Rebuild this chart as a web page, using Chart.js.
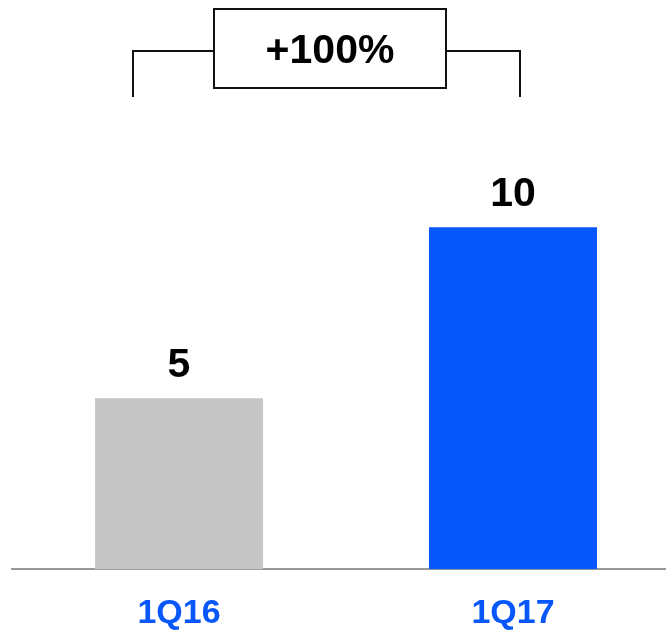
<!DOCTYPE html>
<html>
<head>
<meta charset="utf-8">
<script src="https://cdn.jsdelivr.net/npm/chart.js@4"></script>
<style>
  html, body { margin: 0; padding: 0; background: #fff; overflow: hidden; }
  #wrap { width: 666px; height: 630px; overflow: hidden; }
  canvas { display: block; }
</style>
</head>
<body>
<div id="wrap"><canvas id="growthChart" width="680" height="658"></canvas></div>
<script>
// quarters and their values
const quarters = ['1Q16', '1Q17'];
const values = [5, 10];
const barColors = ['#c6c6c6', '#0857fb'];

const FONT = 'Liberation Sans, Arial, Helvetica, sans-serif';

// value labels above each bar
const valueLabels = {
  id: 'valueLabels',
  afterDatasetsDraw(chart) {
    const ctx = chart.ctx;
    const meta = chart.getDatasetMeta(0);
    ctx.save();
    ctx.font = 'bold 41px ' + FONT;
    ctx.fillStyle = '#000';
    ctx.textAlign = 'center';
    ctx.textBaseline = 'alphabetic';
    meta.data.forEach((bar, i) => {
      ctx.fillText(String(values[i]), bar.x, bar.y - 21);
    });
    ctx.restore();
  }
};

// growth bracket with the percentage box on top
const growthBracket = {
  id: 'growthBracket',
  afterDraw(chart) {
    const ctx = chart.ctx;
    const change = Math.round((values[1] - values[0]) / values[0] * 100);
    const text = (change >= 0 ? '+' : '') + change + '%';
    const lineY = 51, legBottom = 97;
    const leftX = 133, rightX = 520;
    const box = { x1: 214, x2: 446, y1: 9, y2: 88 };

    ctx.save();
    ctx.strokeStyle = '#111';
    ctx.lineWidth = 2;
    ctx.beginPath();
    ctx.moveTo(leftX, legBottom);
    ctx.lineTo(leftX, lineY);
    ctx.lineTo(box.x1, lineY);
    ctx.moveTo(box.x2, lineY);
    ctx.lineTo(rightX, lineY);
    ctx.lineTo(rightX, legBottom);
    ctx.stroke();

    ctx.fillStyle = '#fff';
    ctx.fillRect(box.x1, box.y1, box.x2 - box.x1, box.y2 - box.y1);
    ctx.strokeRect(box.x1, box.y1, box.x2 - box.x1, box.y2 - box.y1);

    ctx.fillStyle = '#000';
    ctx.font = 'bold 41px ' + FONT;
    ctx.textAlign = 'center';
    ctx.textBaseline = 'alphabetic';
    ctx.fillText(text, (box.x1 + box.x2) / 2, 63);
    ctx.restore();
  }
};

const ctx = document.getElementById('growthChart').getContext('2d');
new Chart(ctx, {
  type: 'bar',
  data: {
    labels: quarters,
    datasets: [{
      data: values,
      backgroundColor: barColors,
      borderWidth: 0,
      categoryPercentage: 1,
      barPercentage: 0.503
    }]
  },
  options: {
    responsive: false,
    animation: false,
    devicePixelRatio: 1,
    layout: { padding: { left: 12, right: 0, top: 0, bottom: 0 } },
    plugins: {
      legend: { display: false },
      tooltip: { enabled: false }
    },
    scales: {
      x: {
        grid: { display: false, drawTicks: false },
        border: { display: true, color: '#999', width: 2 },
        ticks: {
          color: '#0857fb',
          padding: 24,
          font: { family: FONT, size: 34, weight: 'bold' }
        }
      },
      y: {
        display: false,
        min: 0,
        max: 16.65
      }
    }
  },
  plugins: [valueLabels, growthBracket]
});
</script>
</body>
</html>
